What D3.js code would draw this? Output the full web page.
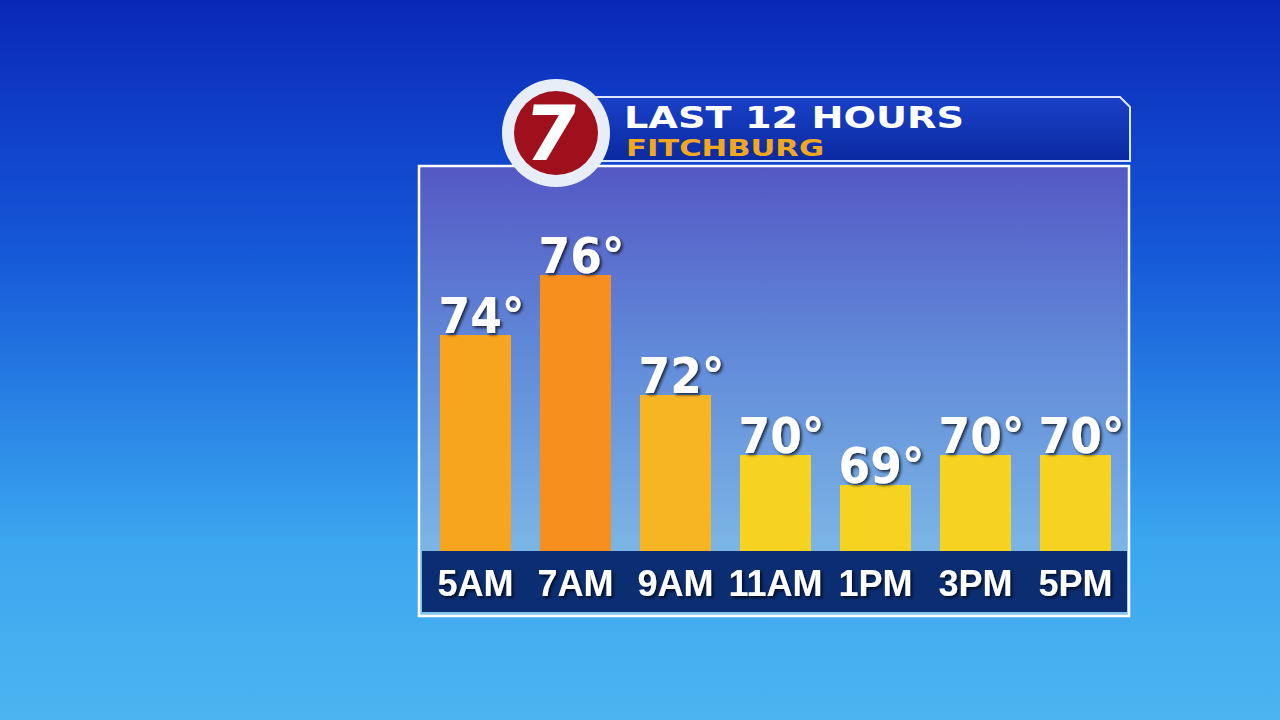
<!DOCTYPE html>
<html><head><meta charset="utf-8">
<script src="https://cdn.jsdelivr.net/npm/d3@7/dist/d3.min.js"></script>
<style>body{margin:0;overflow:hidden;background:#000}</style>
</head><body>
<svg id="c" width="1280" height="720"></svg>
<script>
const categories = ["5AM","7AM","9AM","11AM","1PM","3PM","5PM"];
const temps = [74,76,72,70,69,70,70];
const barColors = ["#f7a41f","#f78f1f","#f8b523","#f6d320","#f6d320","#f6d320","#f6d320"];
const title = "LAST 12 HOURS", subtitle = "FITCHBURG";

const svg = d3.select("#c");
const defs = svg.append("defs");
const bg = defs.append("linearGradient").attr("id","bg").attr("x1",0).attr("y1",0).attr("x2",0).attr("y2",1);
bg.append("stop").attr("offset","0%").attr("stop-color","#0a28b8");
bg.append("stop").attr("offset","35%").attr("stop-color","#1558d8");
bg.append("stop").attr("offset","75%").attr("stop-color","#3aa6ef");
bg.append("stop").attr("offset","100%").attr("stop-color","#4cb4f0");
const pg = defs.append("linearGradient").attr("id","pg").attr("x1",0).attr("y1",0).attr("x2",0).attr("y2",1);
pg.append("stop").attr("offset","0%").attr("stop-color","#5458c4");
pg.append("stop").attr("offset","40%").attr("stop-color","#6088d8");
pg.append("stop").attr("offset","100%").attr("stop-color","#84c4ea");
const hg = defs.append("linearGradient").attr("id","hg").attr("x1",0).attr("y1",0).attr("x2",0).attr("y2",1);
hg.append("stop").attr("offset","0%").attr("stop-color","#1a40c8");
hg.append("stop").attr("offset","100%").attr("stop-color","#0a2aa0");
const sh = defs.append("filter").attr("id","sh");
sh.append("feDropShadow").attr("dx",2).attr("dy",2).attr("stdDeviation",1.5).attr("flood-color","#000").attr("flood-opacity",0.7);

svg.append("rect").attr("width",1280).attr("height",720).attr("fill","url(#bg)");

svg.append("rect").attr("x",419).attr("y",166).attr("width",710).attr("height",450)
  .attr("fill","url(#pg)").attr("stroke","#fff").attr("stroke-width",2.5);

svg.append("path").attr("d","M595,97 L1120,97 L1130,107 L1130,161 L595,161 Z")
  .attr("fill","url(#hg)").attr("stroke","#dde6ff").attr("stroke-width",2);
svg.append("text").attr("x",624).attr("y",128).text(title)
  .attr("textLength",340).attr("lengthAdjust","spacingAndGlyphs")
  .attr("font-family","DejaVu Sans, Arial").attr("font-weight","bold").attr("font-size",30)
  .attr("fill","#fff");
svg.append("text").attr("x",626).attr("y",156).text(subtitle)
  .attr("textLength",198).attr("lengthAdjust","spacingAndGlyphs")
  .attr("font-family","DejaVu Sans, Arial").attr("font-weight","bold").attr("font-size",23)
  .attr("fill","#f2a81c");
svg.append("circle").attr("cx",556).attr("cy",133).attr("r",54).attr("fill","#e8eef8");
svg.append("circle").attr("cx",556).attr("cy",133).attr("r",42).attr("fill","#a0101c");
svg.append("text").attr("x",552).attr("y",160).attr("text-anchor","middle").text("7")
  .attr("transform","skewX(-8) translate(18,0)")
  .attr("font-family","DejaVu Sans, Arial").attr("font-weight","bold").attr("font-size",76).attr("fill","#fff");

const x = d3.scaleBand().domain(categories).range([426,1125]).paddingInner(0.29).paddingOuter(0.14);
const y = d3.scaleLinear().domain([66.8,76]).range([551,275]);

svg.append("g").selectAll("rect").data(temps).join("rect")
  .attr("x",(d,i)=>x(categories[i])).attr("width",x.bandwidth())
  .attr("y",d=>y(d)).attr("height",d=>551-y(d)).attr("fill",(d,i)=>barColors[i]);

svg.append("g").selectAll("text").data(temps).join("text")
  .attr("x",(d,i)=>x(categories[i])+x.bandwidth()/2+6).attr("y",d=>y(d)-2)
  .attr("text-anchor","middle").text(d=>d+"°")
  .attr("textLength",86).attr("lengthAdjust","spacingAndGlyphs")
  .attr("font-family","DejaVu Sans, Arial").attr("font-weight","bold").attr("font-size",50)
  .attr("fill","#fff").attr("filter","url(#sh)");

svg.append("rect").attr("x",422).attr("y",551).attr("width",705).attr("height",61).attr("fill","#0b2d72");
const ax = svg.append("g").attr("transform","translate(0,596)").call(d3.axisBottom(x).tickSize(0));
ax.select(".domain").remove();
ax.selectAll("text").attr("y",0).attr("dy",0)
  .attr("font-family","Liberation Sans Narrow, Liberation Sans, Arial").attr("font-weight","bold")
  .attr("font-size",36).attr("fill","#fff").attr("filter","url(#sh)");
</script>
</body></html>
